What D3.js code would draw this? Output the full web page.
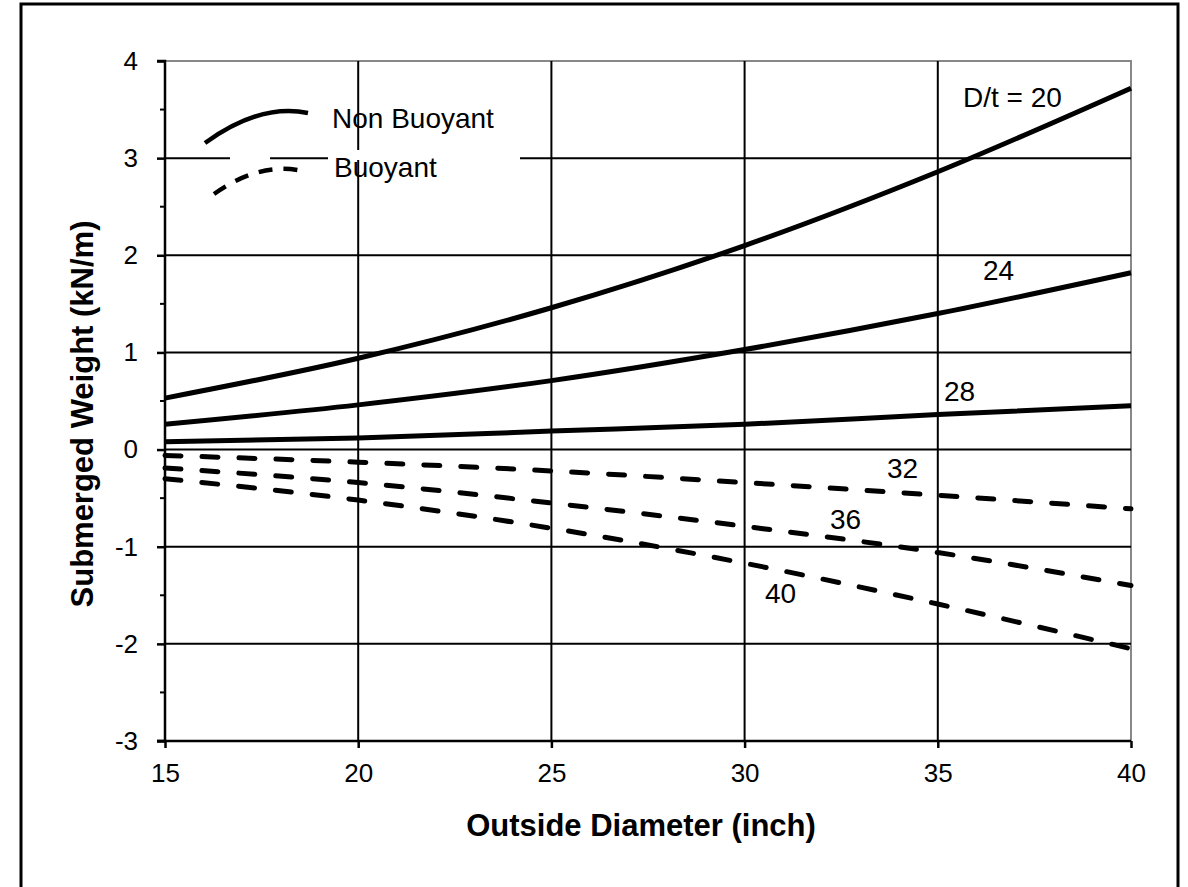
<!DOCTYPE html>
<html><head><meta charset="utf-8">
<script src="https://cdn.jsdelivr.net/npm/d3@7"></script>
<style>body{margin:0;background:#fff}svg{display:block}text{font-family:"Liberation Sans",Arial,sans-serif}</style>
</head><body>
<svg id="c" width="1188" height="887"></svg>
<script>
const diameters = [15, 20, 25, 30, 35, 40];
const dt20 = [0.53, 0.94, 1.46, 2.10, 2.86, 3.72];
const dt24 = [0.26, 0.46, 0.71, 1.03, 1.40, 1.82];
const dt28 = [0.08, 0.12, 0.19, 0.26, 0.36, 0.45];
const dt32 = [-0.06, -0.13, -0.22, -0.34, -0.47, -0.61];
const dt36 = [-0.19, -0.34, -0.55, -0.79, -1.06, -1.40];
const dt40 = [-0.30, -0.52, -0.81, -1.17, -1.59, -2.05];
const xTicks = [15, 20, 25, 30, 35, 40];
const yTicks = [-3, -2, -1, 0, 1, 2, 3, 4];
const seriesLabels = ["D/t = 20", "24", "28", "32", "36", "40"];
const buoyant = [false, false, false, true, true, true];

const series = [dt20, dt24, dt28, dt32, dt36, dt40];
const svg = d3.select("#c");
const L = 165, R = 1131, T = 61, B = 741;
const x = d3.scaleLinear().domain([15, 40]).range([L, R]);
const y = d3.scaleLinear().domain([-3, 4]).range([B, T]);

// outer frame
svg.append("rect").attr("x", 21).attr("y", 4).attr("width", 1157).attr("height", 900)
  .attr("fill", "none").attr("stroke", "#000").attr("stroke-width", 3);

// plot border (top/right gray)
svg.append("rect").attr("x", L).attr("y", T).attr("width", R - L).attr("height", B - T)
  .attr("fill", "none").attr("stroke", "#888").attr("stroke-width", 2);

// grid
const g = svg.append("g");
g.selectAll(".vg").data(xTicks.slice(1, -1)).join("line")
  .attr("x1", d => x(d)).attr("x2", d => x(d)).attr("y1", T).attr("y2", B)
  .attr("stroke", "#000").attr("stroke-width", 2);
g.selectAll(".hg").data(yTicks.slice(1, -1)).join("line")
  .attr("x1", L).attr("x2", R).attr("y1", d => y(d)).attr("y2", d => y(d))
  .attr("stroke", "#000").attr("stroke-width", 2);

// legend white boxes over grid
svg.append("rect").attr("x", 230).attr("y", 150).attr("width", 40).attr("height", 10).attr("fill", "#fff");
svg.append("rect").attr("x", 328).attr("y", 150).attr("width", 192).attr("height", 10).attr("fill", "#fff");

// axes
const yMinor = d3.range(-2.5, 4, 1);
const yAx = svg.append("g").attr("transform", `translate(${L},0)`)
  .call(d3.axisLeft(y).tickValues(yTicks).tickSize(8).tickPadding(19).tickFormat(d => String(d)));
yAx.select(".domain").attr("stroke-width", 2.5).attr("d", `M-8,${T}H0V${B}H-8`);
yAx.selectAll(".tick line").attr("stroke-width", 2.5);
yAx.selectAll("text").attr("font-size", 26).attr("fill", "#000");
svg.append("g").attr("transform", `translate(${L},0)`).selectAll("line").data(yMinor).join("line")
  .attr("x1", -5).attr("x2", 0).attr("y1", d => y(d)).attr("y2", d => y(d))
  .attr("stroke", "#000").attr("stroke-width", 2);

const xAx = svg.append("g").attr("transform", `translate(0,${B})`)
  .call(d3.axisBottom(x).tickValues(xTicks).tickSize(7).tickPadding(16).tickFormat(d => String(d)));
xAx.select(".domain").attr("stroke-width", 2.5).attr("d", `M${L - 8},0H${R}`);
xAx.selectAll(".tick line").attr("stroke-width", 2.5);
xAx.selectAll("text").attr("font-size", 26).attr("fill", "#000");

// lines
const line = d3.line().x((d, i) => x(diameters[i])).y(d => y(d)).curve(d3.curveMonotoneX);
series.forEach((s, k) => {
  const p = svg.append("path").datum(s).attr("d", line).attr("fill", "none")
    .attr("stroke", "#000").attr("stroke-width", 5);
  if (buoyant[k]) p.attr("stroke-dasharray", "16,21").attr("stroke-linecap", "round");
});

// series labels
const labelPos = [[963, 107], [983, 280], [944, 401], [887, 478], [830, 529], [765, 603]];
seriesLabels.forEach((t, i) => {
  svg.append("text").attr("x", labelPos[i][0]).attr("y", labelPos[i][1])
    .attr("font-size", 28).text(t);
});

// legend
svg.append("path").attr("d", "M205,143 Q260,103 308,113").attr("fill", "none").attr("stroke", "#000").attr("stroke-width", 4.5);
svg.append("path").attr("d", "M214,194 Q262,160 307,172").attr("fill", "none").attr("stroke", "#000").attr("stroke-width", 4.5)
  .attr("stroke-dasharray", "14,11");
svg.append("text").attr("x", 332).attr("y", 128).attr("font-size", 28).text("Non Buoyant");
svg.append("text").attr("x", 334).attr("y", 177).attr("font-size", 28).text("Buoyant");

// axis titles
svg.append("text").attr("x", 641).attr("y", 836).attr("text-anchor", "middle").attr("font-size", 31)
  .attr("font-weight", "bold").text("Outside Diameter (inch)");
svg.append("text").attr("transform", "translate(93,414) rotate(-90)").attr("text-anchor", "middle")
  .attr("font-size", 31).attr("font-weight", "bold").text("Submerged Weight (kN/m)");
</script>
</body></html>
